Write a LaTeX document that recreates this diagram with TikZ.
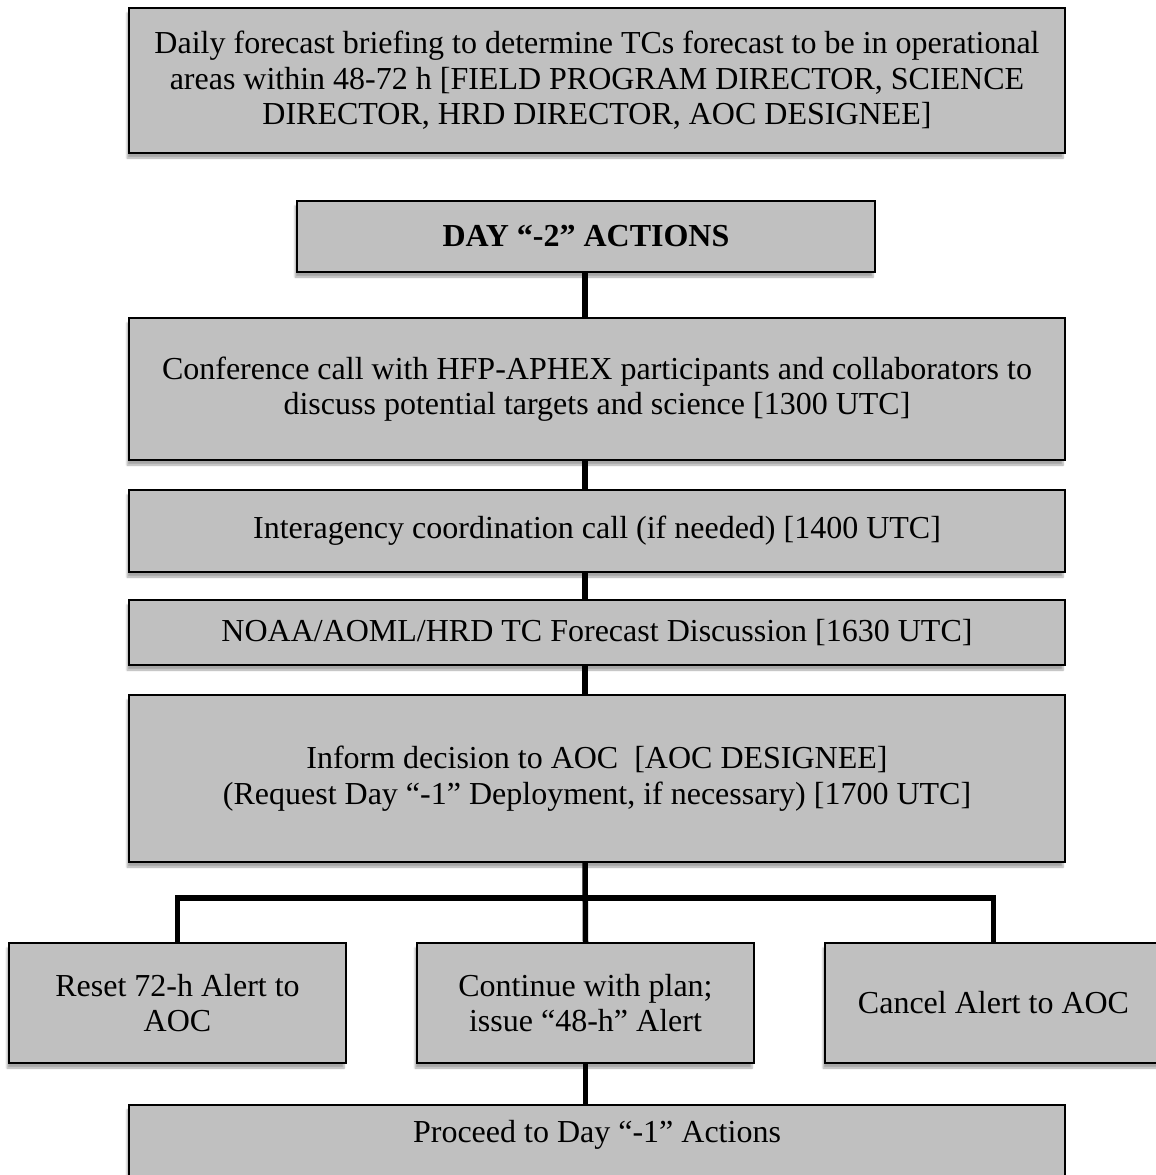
\documentclass[tikz,border=0pt]{standalone}
\usepackage{fontspec}
\setmainfont{Liberation Serif}
\usetikzlibrary{shadows.blur}
\definecolor{boxgray}{RGB}{192,192,192}
\tikzset{
  flowbox/.style={draw=black, line width=1.6pt, fill=boxgray, align=center,
    inner sep=0pt, font=\fontsize{32}{35.5}\selectfont,
    blur shadow={shadow xshift=-2pt, shadow yshift=-5pt, shadow opacity=35, shadow blur steps=6}},
  link/.style={line width=5.5pt, draw=black}
}
\begin{document}
\begin{tikzpicture}[x=1pt,y=-1pt]
\useasboundingbox (0,0) rectangle (1156,1175);
\node[flowbox, minimum width=936pt, minimum height=145pt] (b1) at (597,80.5)
  {Daily forecast briefing to determine TCs forecast to be in operational\\
   areas within 48-72 h [FIELD PROGRAM DIRECTOR, SCIENCE\\
   DIRECTOR, HRD DIRECTOR, AOC DESIGNEE]};
\node[flowbox, minimum width=578pt, minimum height=71pt, font=\fontsize{32}{35.5}\selectfont\bfseries] (b2) at (586,236.5)
  {DAY “-2” ACTIONS};
\node[flowbox, minimum width=936pt, minimum height=142pt] (b3) at (597,389)
  {Conference call with HFP-APHEX participants and collaborators to\\
   discuss potential targets and science [1300 UTC]};
\node[flowbox, minimum width=936pt, minimum height=82pt] (b4) at (597,531)
  {Interagency coordination call (if needed) [1400 UTC]};
\node[flowbox, minimum width=936pt, minimum height=65pt] (b5) at (597,632.5)
  {NOAA/AOML/HRD TC Forecast Discussion [1630 UTC]};
\node[flowbox, minimum width=936pt, minimum height=167pt] (b6) at (597,778.5)
  {Inform decision to AOC\ \ [AOC DESIGNEE]\\
   (Request Day “-1” Deployment, if necessary) [1700 UTC]};
\node[flowbox, minimum width=337pt, minimum height=120pt] (bl) at (177.5,1003)
  {Reset 72-h Alert to\\AOC};
\node[flowbox, minimum width=337pt, minimum height=120pt] (bm) at (585.5,1003)
  {Continue with plan;\\issue “48-h” Alert};
\node[flowbox, minimum width=337pt, minimum height=120pt] (br) at (993.5,1003)
  {Cancel Alert to AOC};
\node[flowbox, anchor=north, minimum width=936pt, inner ysep=15pt, text depth=80pt] (b7) at (597,1104)
  {Proceed to Day “-1” Actions};
\coordinate (sp) at (585,0);
\coordinate (hb) at (585,898);
\draw[link] (sp |- b2.south) -- (sp |- b3.north);
\draw[link] (sp |- b3.south) -- (sp |- b4.north);
\draw[link] (sp |- b4.south) -- (sp |- b5.north);
\draw[link] (sp |- b5.south) -- (sp |- b6.north);
\draw[link] (sp |- b6.south) -- (bm.north);
\draw[link] (bl.north) -- (bl.north |- hb) -- (br.north |- hb) -- (br.north);
\draw[link] (bm.south) -- (bm.south |- b7.north);
\end{tikzpicture}
\end{document}
